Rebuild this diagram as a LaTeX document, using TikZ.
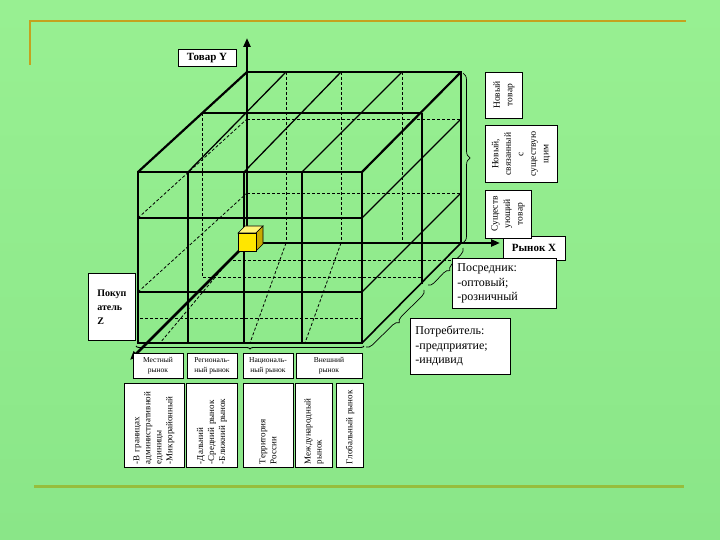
\documentclass[tikz,border=0pt]{standalone}
\usepackage{fontspec}
\setmainfont{Liberation Serif}
\usetikzlibrary{arrows.meta,decorations.pathreplacing}
\definecolor{bgtop}{RGB}{152,240,146}
\definecolor{bgbot}{RGB}{138,230,136}
\definecolor{gold}{RGB}{196,162,30}
\definecolor{olive}{RGB}{150,190,60}
\definecolor{cubey}{RGB}{255,230,0}
\definecolor{cubeyd}{RGB}{200,170,0}
\definecolor{cubeyl}{RGB}{255,245,120}
\tikzset{
  edge/.style={line width=2.2pt},
  gridl/.style={line width=1.3pt},
  dsh/.style={line width=0.8pt, dash pattern=on 3pt off 2pt},
  axis/.style={line width=2.6pt, -{Triangle[length=9pt,width=7pt]}},
  box/.style={draw=black, fill=white, line width=0.7pt, inner sep=2pt},
  sbox/.style={box, line width=1pt},
  lab/.style={box, font=\fontsize{11}{11}\selectfont\bfseries},
  txt/.style={box, font=\fontsize{12}{14.5}\selectfont, align=left, inner sep=5pt},
  rtxt/.style={box, rotate=90, font=\fontsize{9.5}{12.5}\selectfont, align=center},
  btxt/.style={sbox, font=\fontsize{7.5}{10}\selectfont, align=center},
  vb/.style={sbox, rotate=90, font=\fontsize{9}{11}\selectfont, align=left, minimum width=84, text width=78},
  brc/.style={line width=0.7pt, decorate, decoration={brace, amplitude=7pt}}
}
\begin{document}
\begin{tikzpicture}[x=1pt,y=-1pt]
\useasboundingbox (0,0) rectangle (720,540);
\shade[top color=bgtop, bottom color=bgbot] (0,0) rectangle (720,540);
% frame lines
\draw[gold, line width=2pt] (30,65) -- (30,21) -- (686,21);
\draw[olive, line width=3pt] (34,486) -- (684,486);

% back face
\draw[dsh] (286,72) -- (286,243) (341,72) -- (341,243) (402,72) -- (402,243);
\draw[dsh] (247,119) -- (461,119) (247,193) -- (461,193);
% middle plane
\draw[dsh] (202,113) -- (202,277) -- (422,277);
\draw[line width=1.8pt] (202,113) -- (422,113);
\draw[gridl] (422,113) -- (422,284);
% left face dashed
\draw[dsh] (138,218) -- (247,119) (138,292) -- (247,193);
% floor dashed
\draw[dsh] (228,260) -- (461,260);
\draw[dsh] (140,318) -- (362,318);
\draw[dsh] (286,243) -- (250,343) (341,243) -- (305,343) (228,262) -- (160,343);
% back face edges
\draw[edge] (247,72) -- (461,72) -- (461,243);
% top face diagonals
\draw[edge] (138,172) -- (247,72) (362,172) -- (461,72);
\draw[gridl] (188,172) -- (286,72) (244,172) -- (341,72) (302,172) -- (402,72);
% right face diagonals
\draw[gridl] (362,218) -- (461,119) (362,292) -- (461,193);
\draw[line width=1.6pt] (362,343) -- (461,243);
% front face
\draw[gridl] (188,172) -- (188,343) (244,172) -- (244,343) (302,172) -- (302,343);
\draw[line width=1.8pt] (138,218) -- (362,218);
\draw[gridl] (138,292) -- (362,292);
\draw[edge] (138,172) rectangle (362,343);

% axes
\draw[axis] (247,243) -- (247,38);
\draw[axis] (247,243) -- (500,243);
\draw[axis] (247,243) -- (130,360);

% small yellow cube
\fill[cubeyl, draw=black, line width=0.6pt] (238,233) -- (245,226) -- (263,226) -- (256,233) -- cycle;
\fill[cubeyd, draw=black, line width=0.6pt] (256,233) -- (263,226) -- (263,244) -- (256,251) -- cycle;
\fill[cubey, draw=black, line width=0.6pt] (238,233) rectangle (256,251);

% braces
\draw[brc] (463,73) -- (463,243);
\draw[brc, decoration={amplitude=6pt}] (463,248) -- (428,285);
\draw[brc, decoration={amplitude=6pt}] (424,290) -- (366,347);
\draw[line width=0.9pt, decorate, decoration={brace, amplitude=3pt}] (364,346) -- (136,346);

% labels
\node[lab, minimum width=58, minimum height=17] (ty) at (207,58) {Товар Y};
\node[lab, minimum width=62, minimum height=24] (rx) at (534,248) {Рынок X};
\node[box, minimum width=47, minimum height=67, anchor=north west, font=\fontsize{10}{14}\selectfont\bfseries, align=left] (pz) at (88,273) {Покуп\\атель\\Z};

\node[rtxt, minimum width=46, minimum height=37] (r1) at (504,95) {Новый\\товар};
\node[rtxt, minimum width=57, minimum height=72] (r2) at (521,154) {Новый,\\связанный\\с\\существую\\щим};
\node[rtxt, minimum width=48, minimum height=46] (r3) at (508,214) {Существ\\ующий\\товар};

\node[txt, minimum height=50, text width=94, anchor=north west] (pos) at (452,258) {Посредник:\\-оптовый;\\-розничный};
\node[txt, minimum height=56, text width=90, anchor=north west] (pot) at (410,318) {Потребитель:\\-предприятие;\\-индивид};

\node[btxt, minimum width=50, minimum height=25] (b1) at (158,366) {Местный\\рынок};
\node[btxt, minimum width=50, minimum height=25] (b2) at (212,366) {Региональ-\\ный рынок};
\node[btxt, minimum width=50, minimum height=25] (b3) at (268,366) {Националь-\\ный рынок};
\node[btxt, minimum width=66, minimum height=25] (b4) at (329,366) {Внешний\\рынок};

\node[vb, minimum height=60] (c1) at (154,425) {-В границах\\административной\\единицы\\-Микрорайонный};
\node[vb, minimum height=51] (c2) at (212,425) {-Дальний\\-Средний рынок\\-Ближний рынок};
\node[vb, minimum height=50] (c3) at (268,425) {Территория\\России};
\node[vb, minimum height=37] (c4) at (314,425) {Международный\\рынок};
\node[vb, minimum height=27] (c5) at (350,425) {Глобальный рынок};
\end{tikzpicture}
\end{document}
